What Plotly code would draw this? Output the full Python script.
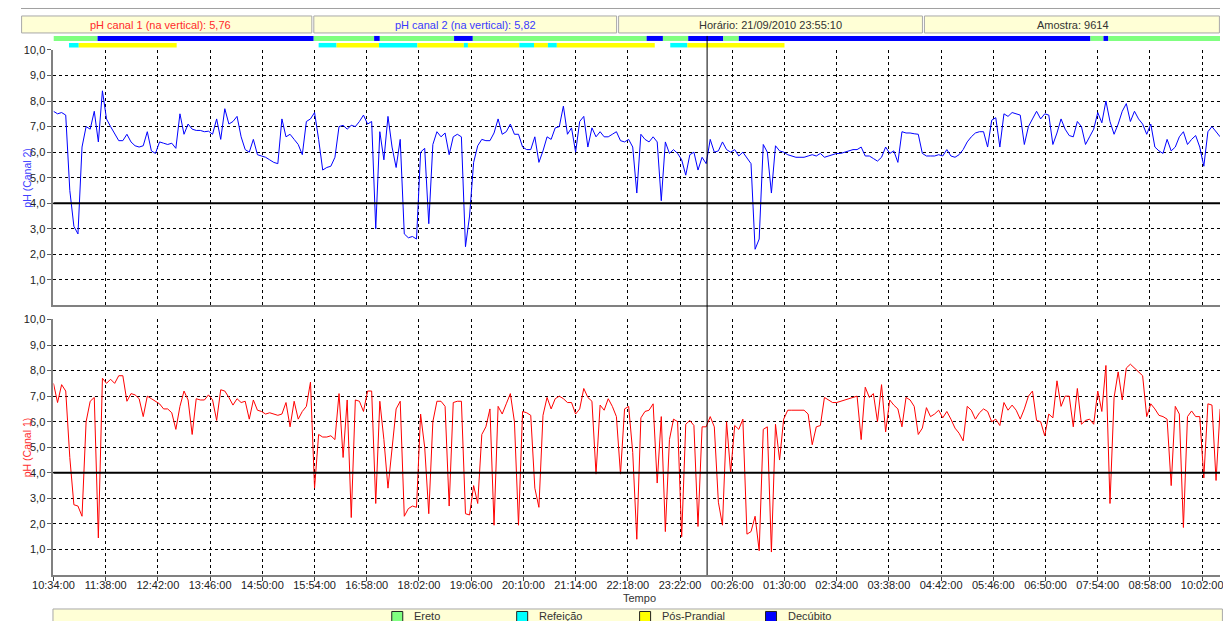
import plotly.graph_objects as go
import pandas as pd
from datetime import datetime, timedelta

W, H = 1223, 621
START = datetime(2010, 9, 21, 10, 34, 0)
END = datetime(2010, 9, 22, 10, 23, 50)
CURSOR = datetime(2010, 9, 21, 23, 55, 10)
STEP_MIN = 5          # one reading every 5 minutes
TICK_STEP_MIN = 64    # axis tick spacing

# pH canal 2 (upper panel, blue)
ph_canal2 = [
    7.6, 7.5, 7.55, 7.45, 4.5, 3.1, 2.8, 6.2, 7.0, 6.9,
    7.6, 6.4, 8.4, 7.3, 7.0, 6.7, 6.45, 6.45, 6.7, 6.4,
    6.25, 6.2, 6.25, 6.8, 6.05, 5.95, 6.4, 6.35, 6.3, 6.35,
    6.15, 7.5, 6.7, 7.1, 6.9, 6.85, 6.85, 6.8, 6.82, 6.7,
    7.3, 6.5, 7.7, 7.1, 7.2, 7.4, 6.6, 6.1, 6.0, 6.5,
    5.9, 5.85, 5.8, 5.7, 5.6, 5.55, 7.3, 6.6, 6.7, 6.5,
    6.3, 5.9, 7.2, 7.3, 7.55, 6.5, 5.3, 5.4, 5.45, 5.8,
    7.0, 7.05, 6.9, 7.05, 7.0, 7.2, 7.45, 7.1, 7.2, 3.0,
    6.8, 5.7, 7.4, 6.2, 5.4, 6.5, 2.8, 2.65, 2.7, 2.6,
    6.0, 6.15, 3.2, 6.3, 6.8, 6.6, 6.75, 5.9, 6.6, 6.7,
    6.6, 2.3, 3.5, 5.6, 6.25, 6.5, 6.45, 6.45, 6.75, 7.3,
    6.7, 6.8, 7.1, 6.7, 6.7, 6.2, 6.1, 6.1, 6.6, 5.6,
    6.05, 6.6, 6.5, 6.95, 7.0, 7.8, 6.7, 6.95, 6.0, 7.2,
    7.4, 6.2, 6.95, 6.6, 6.8, 6.6, 6.6, 6.7, 6.8, 6.45,
    6.4, 6.5, 6.2, 4.4, 6.7, 6.5, 6.4, 6.6, 6.4, 4.1,
    6.4, 5.95, 6.1, 5.95, 5.7, 5.1, 5.9, 6.0, 5.3, 5.8,
    5.55, 6.5, 6.0, 6.05, 6.4, 6.1, 6.0, 6.1, 5.85, 6.0,
    5.75, 5.55, 2.2, 2.6, 6.3, 6.0, 4.4, 6.25, 6.05, 6.0,
    5.9, 5.85, 5.8, 5.8, 5.8, 5.85, 5.9, 5.85, 5.95, 5.8,
    5.85, 5.9, 5.95, 5.95, 6.0, 6.05, 6.1, 6.1, 6.2, 5.85,
    5.85, 5.75, 5.65, 5.8, 6.2, 5.95, 6.05, 5.6, 6.8, 6.75,
    6.75, 6.72, 6.7, 5.95, 5.85, 5.85, 5.85, 5.9, 5.85, 6.1,
    5.85, 5.8, 5.9, 6.1, 6.4, 6.6, 6.75, 6.8, 6.8, 6.2,
    7.25, 7.35, 6.2, 7.5, 7.4, 7.55, 7.5, 7.45, 6.3, 7.0,
    7.3, 7.6, 7.3, 7.5, 7.45, 6.3, 6.75, 7.3, 6.9, 6.65,
    6.6, 7.2, 7.0, 6.3, 6.6, 6.9, 7.55, 7.15, 8.0, 7.2,
    6.7, 7.1, 7.6, 7.9, 7.2, 7.6, 7.3, 7.1, 6.7, 7.1,
    6.2, 6.05, 5.95, 6.5, 6.05, 6.2, 6.6, 6.8, 6.3, 6.5,
    6.65, 6.2, 5.45, 6.8, 7.0, 6.8, 6.6,
]

# pH canal 1 (lower panel, red)
ph_canal1 = [
    7.5, 6.75, 7.45, 7.2, 4.6, 2.75, 2.7, 2.3, 6.0, 6.8,
    6.95, 1.45, 7.7, 7.5, 7.66, 7.5, 7.8, 7.8, 6.8, 7.1,
    7.05, 6.9, 6.2, 7.0, 6.9, 6.8, 6.7, 6.5, 6.5, 6.35,
    5.7, 6.6, 7.2, 6.85, 5.5, 6.9, 6.85, 6.85, 7.05, 6.85,
    6.05, 7.25, 7.2, 6.95, 6.65, 6.9, 6.75, 6.8, 6.1, 6.85,
    6.45, 6.4, 6.3, 6.35, 6.3, 6.25, 6.3, 6.75, 5.8, 6.8,
    6.1, 6.4, 6.6, 7.55, 3.4, 5.5, 5.4, 5.4, 5.45, 5.3,
    7.1, 4.6, 6.85, 2.25, 6.85, 6.8, 6.4, 7.2, 7.2, 2.8,
    6.8, 5.3, 3.4, 5.0, 6.5, 6.8, 2.3, 2.6, 2.7, 2.65,
    6.3, 5.0, 2.4, 6.0, 6.8, 6.8, 6.6, 2.7, 6.75, 6.8,
    6.8, 2.4, 2.35, 3.5, 2.8, 5.5, 5.8, 6.5, 1.95, 6.6,
    6.3, 6.7, 7.1, 6.0, 1.95, 6.4, 6.35, 6.25, 3.4, 2.65,
    6.25, 6.95, 6.5, 6.9, 7.0, 6.9, 6.75, 6.75, 6.3, 6.5,
    7.3, 6.95, 6.8, 3.95, 6.65, 6.45, 6.9, 6.6, 6.2, 3.95,
    6.5, 6.6, 4.8, 1.4, 6.15, 6.4, 6.45, 6.7, 3.6, 6.2,
    1.7, 5.3, 6.1, 6.0, 1.5, 5.9, 6.05, 5.85, 1.9, 5.8,
    5.8, 6.2, 5.8, 2.85, 1.95, 6.0, 4.0, 5.85, 5.7, 6.1,
    1.6, 1.7, 2.3, 0.95, 5.7, 5.8, 0.9, 5.9, 4.5, 6.1,
    6.45, 6.45, 6.45, 6.45, 6.45, 6.3, 5.1, 5.8, 5.85, 6.95,
    6.85, 6.75, 6.75, 6.8, 6.85, 6.9, 6.95, 7.0, 5.3, 7.35,
    6.95, 7.1, 6.0, 7.45, 5.6, 6.85, 6.65, 6.5, 5.8, 6.95,
    6.85, 6.6, 5.5, 5.75, 6.55, 6.2, 6.3, 6.45, 6.15, 6.4,
    6.1, 5.75, 5.55, 5.25, 6.6, 6.45, 6.1, 6.35, 6.5, 6.4,
    6.0, 6.1, 5.85, 6.75, 6.45, 6.65, 6.45, 6.1, 6.5, 7.0,
    7.2, 6.05, 6.0, 5.45, 6.3, 6.15, 7.6, 6.6, 7.0, 7.0,
    5.8, 7.3, 5.9, 6.05, 6.1, 5.9, 7.2, 6.4, 8.2, 2.8,
    6.95, 7.95, 6.85, 8.1, 8.25, 8.1, 7.95, 7.8, 6.2, 6.7,
    6.5, 6.25, 6.2, 6.1, 3.5, 6.6, 6.3, 1.86, 6.2, 6.42,
    6.2, 6.2, 3.8, 6.7, 6.65, 3.7, 6.5,
]

posture_segments = [
    ("10:34", "11:28", "Ereto"), ("11:28", "15:53", "Decúbito"),
    ("15:53", "17:07", "Ereto"), ("17:07", "17:14", "Decúbito"),
    ("17:14", "18:45", "Ereto"), ("18:45", "19:08", "Decúbito"),
    ("19:08", "22:41", "Ereto"), ("22:41", "23:01", "Decúbito"),
    ("23:01", "23:32", "Ereto"), ("23:32", "00:15", "Decúbito"),
    ("00:15", "00:34", "Ereto"), ("00:34", "07:45", "Decúbito"),
    ("07:45", "08:01", "Ereto"), ("08:01", "08:07", "Decúbito"),
    ("08:07", "10:25", "Ereto"),
]
meal_segments = [
    ("10:53", "11:05", "Refeição"), ("11:05", "13:05", "Pós-Prandial"),
    ("15:59", "16:21", "Refeição"), ("16:21", "17:13", "Pós-Prandial"),
    ("17:13", "18:00", "Refeição"), ("18:00", "18:57", "Pós-Prandial"),
    ("18:57", "19:02", "Refeição"), ("19:02", "20:05", "Pós-Prandial"),
    ("20:05", "20:23", "Refeição"), ("20:23", "20:40", "Pós-Prandial"),
    ("20:40", "20:51", "Refeição"), ("20:51", "22:51", "Pós-Prandial"),
    ("23:10", "23:31", "Refeição"), ("23:31", "01:30", "Pós-Prandial"),
]

header_texts = ["pH canal 1 (na vertical): 5,76", "pH canal 2 (na vertical): 5,82",
                "Horário: 21/09/2010 23:55:10", "Amostra: 9614"]
header_colors = ["#FF2A2A", "#3A3AFF", "#333333", "#333333"]
legend_labels = ["Ereto", "Refeição", "Pós-Prandial", "Decúbito"]
state_colors = {"Ereto": "#80FF80", "Refeição": "#00FFFF",
                "Pós-Prandial": "#FFFF00", "Decúbito": "#0000FF"}
REFLUX_LIMIT = 4.0

FONT = "Liberation Sans, Arial, sans-serif"

# the capture places the page slightly shifted / scaled; positions below are
# given in reference-picture pixels and mapped back to page pixels
OFFX, SX = 22.0, 0.981
OFFY, SY = 5.0, 0.992


def X(px):
    return ((px - OFFX) / SX) / W


def Y(py):
    return 1 - ((py - OFFY) / SY) / H


def clock(s):
    h, m = (int(v) for v in s.split(":"))
    t = START.replace(hour=h, minute=m)
    if t < START:
        t += timedelta(days=1)
    return t


times = pd.date_range(START, periods=len(ph_canal2), freq=f"{STEP_MIN}min")

fig = go.Figure()
fig.add_trace(go.Scatter(x=times, y=ph_canal2, mode="lines",
                         line=dict(color="#0000FF", width=1),
                         xaxis="x", yaxis="y", showlegend=False, hoverinfo="skip"))
fig.add_trace(go.Scatter(x=times, y=ph_canal1, mode="lines",
                         line=dict(color="#FF0000", width=1),
                         xaxis="x2", yaxis="y2", showlegend=False, hoverinfo="skip"))

shapes = []
# top frame line
shapes.append(dict(type="line", xref="paper", yref="paper", x0=0, x1=1, y0=Y(7.5), y1=Y(7.5),
                   line=dict(color="#A0A0A0", width=1)))
# header boxes
header_boxes = [(10, 313), (315, 618), (620, 924), (926, 1223)]
for (a, b) in header_boxes:
    shapes.append(dict(type="rect", xref="paper", yref="paper", x0=max(X(a), 0.0005),
                       x1=min(X(b), 0.9995), y0=Y(32), y1=Y(15), fillcolor="#FFFFD6",
                       line=dict(color="#A8A8A8", width=1)))
# state bars
for s, e, kind in posture_segments:
    shapes.append(dict(type="rect", xref="x", yref="paper", x0=clock(s), x1=clock(e),
                       y0=Y(40), y1=Y(35), fillcolor=state_colors[kind], line=dict(width=0)))
for s, e, kind in meal_segments:
    shapes.append(dict(type="rect", xref="x", yref="paper", x0=clock(s), x1=clock(e),
                       y0=Y(46.5), y1=Y(42), fillcolor=state_colors[kind], line=dict(width=0)))
# pH 4 reference lines
for xr, yr in (("x domain", "y"), ("x2 domain", "y2")):
    shapes.append(dict(type="line", xref=xr, yref=yr, x0=0, x1=1,
                       y0=REFLUX_LIMIT, y1=REFLUX_LIMIT, line=dict(color="black", width=2)))
# cursor
shapes.append(dict(type="line", xref="x", yref="paper", x0=CURSOR, x1=CURSOR,
                   y0=Y(575), y1=Y(35), line=dict(color="black", width=1)))
# legend band
shapes.append(dict(type="rect", xref="paper", yref="paper", x0=X(54), x1=1.002,
                   y0=-0.01, y1=Y(609), fillcolor="#FFFFD6",
                   line=dict(color="#A8A8A8", width=1)))
legend_pos = [393, 518, 641, 767]
for px, lab in zip(legend_pos, legend_labels):
    shapes.append(dict(type="rect", xref="paper", yref="paper", x0=X(px), x1=X(px + 11),
                       y0=-0.01, y1=Y(611.5), fillcolor=state_colors[lab],
                       line=dict(color="#202020", width=1)))

annotations = []
for (a, b), txt, col in zip(header_boxes, header_texts, header_colors):
    annotations.append(dict(x=X((a + b) / 2), y=Y(24), xref="paper", yref="paper",
                            text=txt, showarrow=False, font=dict(family=FONT, size=11, color=col),
                            xanchor="center", yanchor="middle"))
for px, lab in zip(legend_pos, legend_labels):
    annotations.append(dict(x=X(px + 20), y=Y(616), xref="paper", yref="paper", text=lab,
                            showarrow=False, font=dict(family=FONT, size=11, color="#333"),
                            xanchor="left", yanchor="middle"))
annotations.append(dict(x=X(28), y=Y(177), xref="paper", yref="paper", text="pH (Canal 2)",
                        textangle=-90, showarrow=False, xanchor="center", yanchor="middle",
                        font=dict(family=FONT, size=10.5, color="#4040FF")))
annotations.append(dict(x=X(28), y=Y(447), xref="paper", yref="paper", text="pH (Canal 1)",
                        textangle=-90, showarrow=False, xanchor="center", yanchor="middle",
                        font=dict(family=FONT, size=10.5, color="#FF3030")))
annotations.append(dict(x=X(641), y=Y(598), xref="paper", yref="paper", text="Tempo",
                        showarrow=False, xanchor="center", yanchor="middle",
                        font=dict(family=FONT, size=11, color="#333")))

xdomain = [X(54.5), 1]
common_x = dict(type="date", range=[START, END], tick0=START, dtick=TICK_STEP_MIN * 60000,
                tickformat="%H:%M:%S", showgrid=True, gridcolor="#000000", gridwidth=1,
                griddash="3px,3px", zeroline=False, showline=True, linecolor="#808080",
                linewidth=2, domain=xdomain, fixedrange=True,
                tickfont=dict(family=FONT, size=11, color="#222"))
common_y = dict(range=[0, 10], tickvals=[1, 2, 3, 4, 5, 6, 7, 8, 9, 10], tickformat=".1f",
                showgrid=True, gridcolor="#000000", gridwidth=1, griddash="3px,3px",
                zeroline=False, showline=True, linecolor="#808080", linewidth=2,
                ticks="outside", ticklen=4, tickcolor="#606060",
                tickfont=dict(family=FONT, size=11, color="#222"), fixedrange=True)

fig.update_layout(
    width=W, height=H, autosize=False,
    margin=dict(l=0, r=0, t=0, b=0, pad=0),
    paper_bgcolor="white", plot_bgcolor="white",
    separators=",.",
    showlegend=False,
    xaxis=dict(common_x, anchor="y", showticklabels=False, ticks=""),
    yaxis=dict(common_y, anchor="x", domain=[Y(305), Y(49)]),
    xaxis2=dict(common_x, anchor="y2", ticks="outside", ticklen=4, tickcolor="#404040",
                ticklabelstandoff=-5, ticklabeloverflow="allow"),
    yaxis2=dict(common_y, anchor="x2", domain=[Y(575), Y(319)]),
    shapes=shapes,
    annotations=annotations,
)

post = ("document.body.style.margin='0';document.body.style.padding='0';"
        "document.body.style.overflow='hidden';"
        "var d=document.getElementById('{plot_id}');"
        "d.style.position='absolute';d.style.left='0px';d.style.top='0px';")

fig.write_html("out.html", config={"displayModeBar": False}, post_script=post)
